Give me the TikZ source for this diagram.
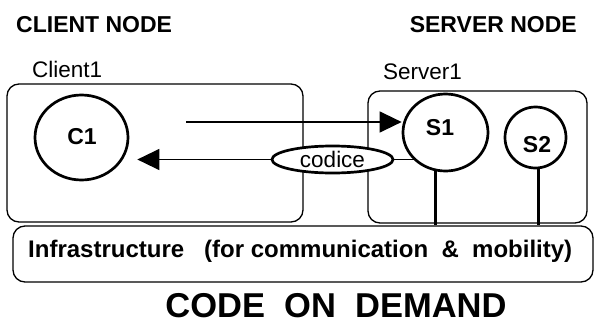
\documentclass[tikz,border=0pt]{standalone}
\usepackage{fontspec}
\setmainfont{Liberation Sans}
\usetikzlibrary{shapes.geometric,arrows.meta}
\tikzset{
  box/.style={draw, rounded corners=12pt, line width=1.3pt, inner sep=0pt},
  proc/.style={draw, ellipse, line width=2.7pt, inner sep=0pt},
  plabel/.style={font=\fontsize{23}{23}\selectfont\bfseries, inner sep=0pt},
  nlabel/.style={font=\fontsize{22.5}{22.5}\selectfont, inner sep=0pt},
  msg/.style={line width=1.3pt},
  link/.style={line width=2.7pt},
  tip/.style={-{Triangle[length=22pt,width=21pt]}}
}
\begin{document}
\begin{tikzpicture}[x=1pt,y=-1pt]
\useasboundingbox (0,0) rectangle (595,324);
% titles
\node[plabel, anchor=base west] (ctitle) at (16,32) {CLIENT NODE};
\node[plabel, anchor=base east] (stitle) at (577,32) {SERVER NODE};
\node[nlabel, anchor=base west] (clab) at (32,77) {Client1};
\node[nlabel, anchor=base west] (slab) at (383,79) {Server1};
% boxes
\node[box, minimum width=296pt, minimum height=138pt] (clientbox) at (155,153) {};
\node[box, minimum width=219pt, minimum height=132pt] (serverbox) at (477.5,157) {};
\node[box, minimum width=580pt, minimum height=56pt] (infra) at (303,254) {};
\node[plabel, font=\fontsize{24}{24}\selectfont\bfseries, anchor=base west] (infratext) at (28,257)
  {Infrastructure\ \ \ (for communication\ \ \&\ \ mobility)};
% processes
\node[proc, minimum width=93pt, minimum height=85pt] (c1) at (81.5,137.5) {};
\node[proc, minimum width=85pt, minimum height=77pt] (s1) at (445.5,132.5) {};
\node[proc, minimum width=61pt, minimum height=61pt] (s2) at (535.5,137.5) {};
\node[plabel] (c1t) at (82,137) {C1};
\node[plabel] (s1t) at (440,128) {S1};
\node[plabel] (s2t) at (537,145) {S2};
% messages
\coordinate (tstart) at (186,122);
\draw[msg, tip] (tstart) -- (s1.west |- tstart);
\node[proc, fill=white, minimum width=121pt, minimum height=27pt, font=\fontsize{22.5}{22.5}\selectfont] (codice) at (332.5,159.5) {codice};
\draw[msg] (codice.east) -- (s1.221 |- codice.east);
\draw[msg, tip, shorten >=8pt] (codice.west) -- (c1.east |- codice.west);
% links to infrastructure
\draw[link] (s1.256) -- (s1.256 |- infra.north);
\draw[link] (s2.275) -- (s2.275 |- infra.north);
% caption
\node[plabel, font=\fontsize{34.5}{34.5}\selectfont\bfseries, anchor=base] (caption) at (336,317) {CODE\ \ ON\ \ DEMAND};
\end{tikzpicture}
\end{document}
